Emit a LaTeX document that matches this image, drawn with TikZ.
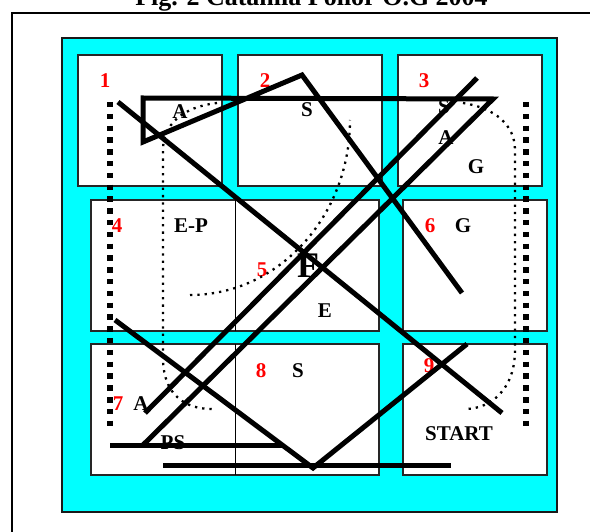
\documentclass[tikz,border=0pt]{standalone}
\usepackage{fontspec}
\setmainfont{Liberation Serif}
\definecolor{aquafill}{RGB}{0,255,255}
\definecolor{numred}{RGB}{255,0,0}
\begin{document}
\begin{tikzpicture}[x=1pt,y=-1pt,
  num/.style={text=numred,font=\bfseries\fontsize{21}{21}\selectfont,inner sep=0pt},
  lab/.style={text=black,font=\bfseries\fontsize{21}{21}\selectfont,inner sep=0pt},
  room/.style={draw=black!85,line width=1.5pt,fill=white},
  divider/.style={draw=black,line width=1pt},
  heavy/.style={line width=5pt,draw=black},
  dotline/.style={line width=2.3pt,dash pattern=on 2.3pt off 5pt},
  sqdots/.style={line width=5.5pt,dash pattern=on 5.5pt off 6.3pt}]
\useasboundingbox (0,0) rectangle (590,532);
% frames
\draw[line width=2.5pt] (12,13) rectangle (620,570);
\node[anchor=base,inner sep=0pt,font=\bfseries\fontsize{26}{26}\selectfont] (title) at (311.5,6) {Fig. 2 Catanlia Pollor O.G 2004};
\draw[line width=2.5pt,draw=black!90,fill=aquafill] (62,38) rectangle (557,512);
% rooms
\draw[room] (78,55) rectangle (222,186);
\draw[room] (238,55) rectangle (382,186);
\draw[room] (398,55) rectangle (542,186);
\draw[room] (91,200) rectangle (379,331);
\draw[room] (403,200) rectangle (547,331);
\draw[room] (91,344) rectangle (379,475);
\draw[room] (403,344) rectangle (547,475);
\draw[divider] (235,200) -- (235,331);
\draw[divider] (235,344) -- (235,475);
% labels
\node[num] (n1) at (105,81) {1};
\node[num] (n2) at (265,81) {2};
\node[num] (n3) at (424,81) {3};
\node[num] (n4) at (117,226) {4};
\node[num] (n5) at (262,270) {5};
\node[num] (n6) at (430,226) {6};
\node[num] (n7) at (118,404) {7};
\node[num] (n8) at (261,371) {8};
\node[num] (n9) at (429,366) {9};
\node[lab] (a1) at (180,112) {A};
\node[lab] (s2) at (307,110) {S};
\node[lab] (s3) at (444,107) {S};
\node[lab] (a3) at (446,138) {A};
\node[lab] (g3) at (476,167) {G};
\node[lab] (ep) at (191,226) {E-P};
\node[lab,font=\bfseries\fontsize{36}{36}\selectfont] (f5) at (308,266) {F};
\node[lab] (e5) at (325,311) {E};
\node[lab] (g6) at (463,226) {G};
\node[lab] (s8) at (298,371) {S};
\node[lab] (a7) at (141,404) {A};
\node[lab] (ps) at (173,443) {PS};
\node[lab] (start) at (459,434) {START};
% dotted paths
\draw[dotline] (217,103) .. controls (182,107) and (163,125) .. (163,150)
  -- (163,360) .. controls (164,395) and (185,409) .. (212,409);
\draw[dotline] (463,103) .. controls (495,108) and (515,125) .. (515,150)
  -- (515,350) .. controls (515,390) and (490,409) .. (465,409);
\draw[dotline] (190,295) .. controls (278.4,295) and (350,216.6) .. (350,120);
\draw[sqdots] (110,102) -- (110,426);
\draw[sqdots] (526,102) -- (526,426);
% heavy lines
\coordinate (p1) at (118,102);
\coordinate (p2) at (502,413);
\coordinate (q1) at (462,293);
\coordinate (q2) at (302,75);
\coordinate (q3) at (143,142);
\coordinate (q4) at (143,98);
\coordinate (q5) at (493,99);
\coordinate (q6) at (143,445);
\coordinate (r1) at (145,413);
\coordinate (r2) at (477,78);
\coordinate (h1) at (110,445);
\coordinate (h2) at (283,445);
\coordinate (b1) at (163,465);
\coordinate (b2) at (451,465);
\coordinate (v1) at (115,320);
\coordinate (v2) at (313,468);
\coordinate (v3) at (467,344);
\draw[heavy] (p1) -- (p2);
\draw[heavy] (q1) -- (q2) -- (q3) -- (q4) -- (q5) -- (q6);
\draw[heavy] (r1) -- (r2);
\draw[heavy] (h1) -- (h2);
\draw[heavy] (b1) -- (b2);
\draw[heavy] (v1) -- (v2) -- (v3);
\end{tikzpicture}
\end{document}
